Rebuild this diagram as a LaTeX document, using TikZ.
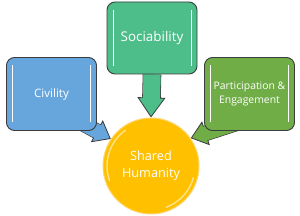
\documentclass[tikz,border=0pt]{standalone}
\usepackage{fontspec}
\setmainfont{Open Sans}
\usetikzlibrary{arrows.meta,backgrounds,calc}
\definecolor{civblue}{HTML}{67A6DD}
\definecolor{socgreen}{HTML}{4DBE8A}
\definecolor{pargreen}{HTML}{70AD47}
\definecolor{humgold}{HTML}{FFC000}
\definecolor{humrim}{HTML}{FFD66E}
\definecolor{ink}{HTML}{3C3C3C}

\begin{document}
\begin{tikzpicture}[
  x=1pt,y=-1pt,
  box/.style={draw=ink,line width=0.9pt,rounded corners=8pt,fill=#1,minimum width=90pt,minimum height=73pt,align=center,text=white,inner sep=0pt,
    path picture={
      \draw[white,line width=1pt] ([xshift=6pt,yshift=-8pt]path picture bounding box.north west) -- ([xshift=6pt,yshift=8pt]path picture bounding box.south west);
      \draw[white,line width=1pt] ([xshift=-6pt,yshift=-8pt]path picture bounding box.north east) -- ([xshift=-6pt,yshift=8pt]path picture bounding box.south east);}},
  hub/.style={circle,draw=humrim,line width=1pt,fill=humgold,minimum size=96pt,align=center,text=white,font=\fontsize{12.7}{17}\selectfont,
    path picture={
      \draw[white,opacity=.55,line width=1.4pt] (path picture bounding box.center) ++(125:44pt) arc[start angle=125,end angle=200,radius=44pt];
      \draw[white,opacity=.55,line width=1.4pt] (path picture bounding box.center) ++(-15:44pt) arc[start angle=-15,end angle=-70,radius=44pt];}},
  blk/.style n args={4}{draw=#1,line width=#2,
    -{Triangle[length=#4,width=#3,line width=0.8pt,fill=#1,color=ink]},
    preaction={draw=ink,line width=#2+1.6pt,-,shorten >=#4-2pt},
    postaction={draw=#1,line width=#2,-,shorten >=#4-1.5pt}}
]
\useasboundingbox (0,0) rectangle (300,216);
\node[box=civblue,font=\fontsize{11.6}{14}\selectfont] (civ) at (51.5,94) {Civility};
\node[box=socgreen,font=\fontsize{13.4}{16}\selectfont,minimum height=72pt] (soc) at (152,38) {Sociability};
\node[box=pargreen,font=\fontsize{10.4}{14}\selectfont] (par) at (249.5,94) {Participation \&\\Engagement};
\node[hub] (hum) at (151,166) {Shared\\Humanity};
% block arrows behind the boxes
\begin{scope}[on background layer]
\draw[blk={socgreen}{17pt}{28pt}{20pt}] (soc.south) -- (hum.north);
\draw[blk={civblue}{14pt}{25pt}{16pt}] ($(civ.center)+(6.5,16)$) -- (hum.146);
\draw[blk={pargreen}{14pt}{25pt}{16pt}] ($(par.center)+(-9,28)$) -- (hum.35);
\end{scope}
\end{tikzpicture}
\end{document}
